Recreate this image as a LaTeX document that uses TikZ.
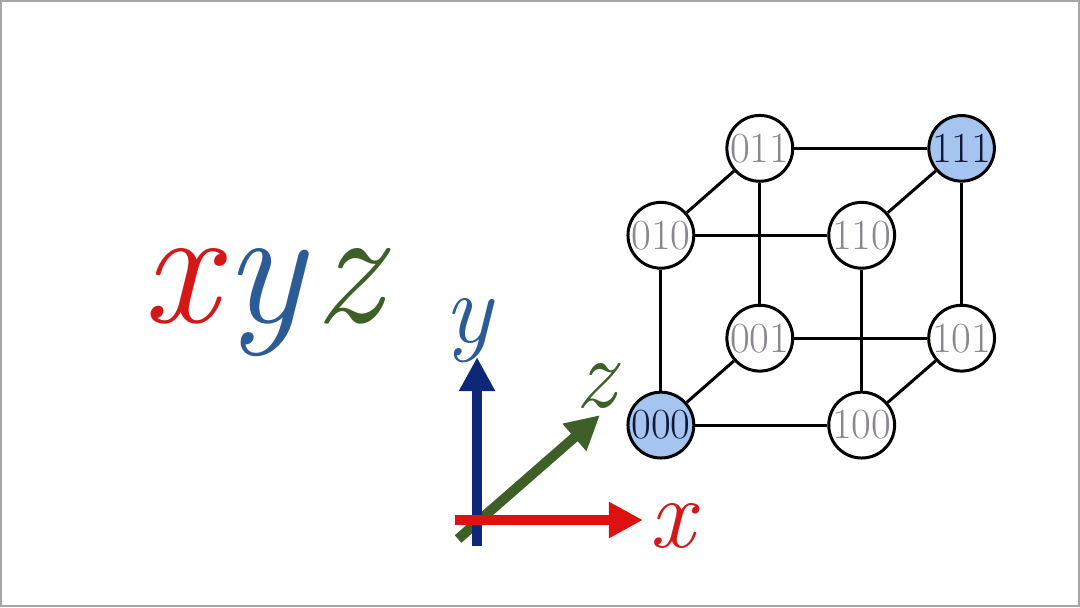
\documentclass[tikz,border=0pt]{standalone}
\usetikzlibrary{arrows.meta}
\definecolor{cred}{RGB}{212,24,24}
\definecolor{cblue}{RGB}{44,92,150}
\definecolor{cgreen}{RGB}{62,96,40}
\definecolor{anavy}{RGB}{14,40,120}
\definecolor{ared}{RGB}{222,16,16}
\definecolor{nfill}{RGB}{166,196,240}
\definecolor{lgray}{RGB}{140,134,142}
\definecolor{dnavy}{RGB}{16,24,56}
\tikzset{
  vtx/.style={circle,draw=black,line width=1.5pt,fill=white,minimum size=32pt,inner sep=0pt,
    font=\fontsize{21.5}{21.5}\selectfont,text=lgray},
  vhl/.style={vtx,fill=nfill,text=dnavy},
  edge/.style={line width=1.5pt,black},
  axis/.style={line width=5pt,-{Triangle[length=17pt,width=17pt]}},
  biglab/.style={font=\fontsize{84}{84}\selectfont\itshape,inner sep=0pt,anchor=base},
  axlab/.style={font=\fontsize{50}{50}\selectfont\itshape,inner sep=0pt,anchor=base}
}
\begin{document}
\begin{tikzpicture}[x=0.5pt,y=-0.5pt]
\path[fill=white,draw=gray!70,line width=1pt] (0.5,0.5) rectangle (1079.5,606.5);
\useasboundingbox (0,0) rectangle (1080,607);
% big xyz
\node[biglab,text=cred] (bx) at (180,322) {x};
\node[biglab,text=cblue] (by) at (264,322) {y};
\node[biglab,text=cgreen] (bz) at (348,322) {z};
% axes
\coordinate (zt) at (458,539);
\coordinate (zh) at (600,415);
\coordinate (yt) at (477,546);
\coordinate (yh) at (477,357);
\coordinate (xt) at (455,520);
\coordinate (xh) at (643,520);
\draw[axis,cgreen] (zt) -- (zh);
\draw[axis,anavy] (yt) -- (yh);
\draw[axis,ared] (xt) -- (xh);
\node[axlab,text=cblue] (ly) at (468,342) {y};
\node[axlab,text=cgreen] (lz) at (596,407) {z};
\node[axlab,text=cred] (lx) at (672,548) {x};
% cube nodes
\coordinate (p000) at (661,425);
\coordinate (p100) at (862,425);
\coordinate (p010) at (661,235);
\coordinate (p110) at (862,235);
\coordinate (p001) at (760,338);
\coordinate (p101) at (962,338);
\coordinate (p011) at (760,148);
\coordinate (p111) at (962,148);
\node[vhl] (n000) at (p000) {000};
\node[vtx] (n100) at (p100) {100};
\node[vtx] (n010) at (p010) {010};
\node[vtx] (n110) at (p110) {110};
\node[vtx] (n001) at (p001) {001};
\node[vtx] (n101) at (p101) {101};
\node[vtx] (n011) at (p011) {011};
\node[vhl] (n111) at (p111) {111};
\draw[edge] (n011) -- (n001);
\draw[edge] (n110) -- (n100);
\draw[edge] (n010) -- (n110);
\draw[edge] (n001) -- (n101);
\draw[edge] (n000) -- (n100);
\draw[edge] (n011) -- (n111);
\draw[edge] (n000) -- (n010);
\draw[edge] (n111) -- (n101);
\draw[edge] (n000) -- (n001);
\draw[edge] (n100) -- (n101);
\draw[edge] (n010) -- (n011);
\draw[edge] (n110) -- (n111);
\end{tikzpicture}
\end{document}
